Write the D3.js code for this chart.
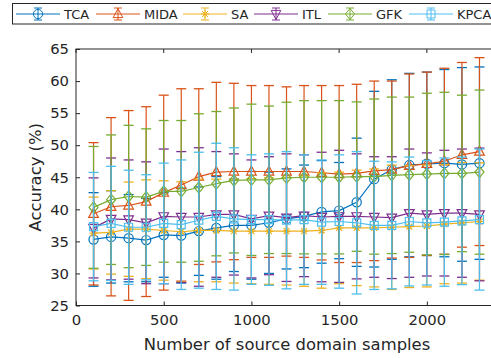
<!DOCTYPE html>
<html>
<head>
<meta charset="utf-8">
<script src="https://cdn.jsdelivr.net/npm/d3@7"></script>
<style>
  body { margin: 0; background: #fff; }
  svg { font-family: "DejaVu Sans", sans-serif; }
</style>
</head>
<body>
<script>
const w = 491;
const h = 358;

const samples = [100, 200, 300, 400, 500, 600, 700, 800, 900, 1000, 1100, 1200,
  1300, 1400, 1500, 1600, 1700, 1800, 1900, 2000, 2100, 2200, 2300];

const tcaMean = [35.3, 35.7, 35.5, 35.2, 36.0, 35.9, 36.6, 37.1, 37.5, 37.5, 37.9, 38.5,
  38.9, 39.6, 39.8, 41.1, 44.7, 46.2, 46.9, 47.1, 47.2, 47.0, 47.2];
const tcaErr = [7.3, 7.2, 6.8, 6.5, 6.6, 7.4, 6.9, 8.0, 7.2, 8.4, 7.9, 7.8,
  8.0, 8.0, 7.5, 10.0, 13.7, 14.0, 14.3, 14.3, 14.6, 15.1, 15.0];

const midaMean = [39.3, 40.4, 40.6, 41.2, 42.6, 43.8, 45.1, 45.8, 45.9, 45.9, 45.9, 45.9,
  45.9, 45.7, 45.5, 45.6, 46.0, 46.2, 46.8, 47.1, 47.5, 48.5, 49.0];
const midaErr = [11.1, 13.9, 14.8, 14.8, 15.2, 15.0, 13.7, 14.0, 13.75, 13.4, 13.4, 13.2,
  13.4, 13.6, 13.8, 13.9, 14.0, 13.8, 14.3, 14.3, 14.5, 14.4, 14.65];

const saMean = [36.3, 36.4, 36.9, 36.9, 36.7, 36.5, 36.7, 36.7, 36.6, 36.6, 36.6, 36.6,
  36.6, 36.7, 37.1, 37.1, 37.1, 37.2, 37.3, 37.4, 37.7, 37.9, 38.1];
const saErr = [5.6, 6.5, 7.35, 7.7, 7.75, 7.8, 8.0, 8.0, 8.1, 8.2, 8.3, 8.4,
  8.6, 9.0, 8.7, 9.0, 9.2, 9.7, 9.5, 9.5, 9.3, 9.4, 9.15];

const itlMean = [37.1, 38.5, 38.4, 37.9, 38.9, 38.8, 38.8, 39.2, 39.2, 38.5, 39.0, 38.7,
  39.0, 38.8, 38.9, 38.9, 38.8, 38.7, 39.4, 39.2, 39.4, 39.4, 39.2];
const itlErr = [7.8, 9.5, 9.3, 9.5, 10.5, 10.2, 10.8, 9.8, 9.45, 9.2, 9.2, 9.95,
  9.5, 10.1, 10.3, 9.75, 9.4, 9.5, 10.0, 9.6, 9.8, 10.0, 10.35];

const gfkMean = [40.3, 41.5, 42.0, 41.9, 42.8, 42.8, 43.4, 44.0, 44.5, 44.6, 44.6, 44.9,
  45.0, 45.0, 45.0, 45.1, 45.1, 45.3, 45.4, 45.5, 45.6, 45.6, 45.8];
const gfkErr = [9.5, 10.1, 11.1, 10.65, 11.05, 11.05, 11.5, 11.25, 11.3, 11.8, 11.5, 11.8,
  11.95, 11.95, 11.95, 11.65, 12.1, 12.2, 12.1, 12.6, 12.65, 12.2, 12.8];

const kpcaMean = [37.3, 37.8, 37.2, 37.2, 37.8, 37.6, 38.3, 38.9, 38.5, 38.4, 38.4, 38.3,
  38.4, 38.0, 38.1, 37.9, 37.5, 37.5, 38.1, 37.9, 38.0, 38.2, 38.4];
const kpcaErr = [8.45, 8.9, 8.9, 8.2, 9.4, 10.1, 10.6, 11.4, 11.1, 10.1, 10.25, 10.7,
  10.1, 9.7, 10.4, 11.1, 10.0, 9.9, 10.05, 9.7, 10.0, 9.95, 11.0];

const methods = ["TCA", "MIDA", "SA", "ITL", "GFK", "KPCA"];
const means = [tcaMean, midaMean, saMean, itlMean, gfkMean, kpcaMean];
const errs = [tcaErr, midaErr, saErr, itlErr, gfkErr, kpcaErr];
const colors = ["#0072BD", "#D95319", "#EDB120", "#7E2F8E", "#77AC30", "#4DBEEE"];
const markers = ["circle", "triUp", "star", "triDown", "diamond", "square"];

const xTicks = [0, 500, 1000, 1500, 2000];
const yTicks = [25, 30, 35, 40, 45, 50, 55, 60, 65];

const padLeft = 76, padRight = 490, padTop = 49, padBottom = 305.5;

const x = d3.scaleLinear().domain([0, 2360]).range([padLeft, padRight]);
const y = d3.scaleLinear().domain([25, 65]).range([padBottom, padTop]);

const svg = d3.select("body").append("svg").attr("width", w).attr("height", h);

function markerPath(type) {
  const p = d3.path();
  if (type === "circle") {
    p.moveTo(4.6, 0);
    p.arc(0, 0, 4.6, 0, Math.PI * 2);
  } else if (type === "triUp") {
    p.moveTo(0, -5.5); p.lineTo(4.8, 3.6); p.lineTo(-4.8, 3.6); p.closePath();
  } else if (type === "triDown") {
    p.moveTo(0, 5.5); p.lineTo(4.8, -3.6); p.lineTo(-4.8, -3.6); p.closePath();
  } else if (type === "diamond") {
    p.moveTo(0, -5.5); p.lineTo(4.5, 0); p.lineTo(0, 5.5); p.lineTo(-4.5, 0); p.closePath();
  } else if (type === "square") {
    p.rect(-4, -4, 8, 8);
  } else if (type === "star") {
    p.moveTo(-4, 0); p.lineTo(4, 0);
    p.moveTo(0, -4); p.lineTo(0, 4);
    p.moveTo(-3, -3); p.lineTo(3, 3);
    p.moveTo(-3, 3); p.lineTo(3, -3);
  }
  return p.toString();
}

// axes box
svg.append("rect")
  .attr("x", padLeft).attr("y", padTop)
  .attr("width", padRight - padLeft + 5).attr("height", padBottom - padTop)
  .attr("fill", "none").attr("stroke", "#262626").attr("stroke-width", 1);

const xAxis = d3.axisBottom(x).tickValues(xTicks).tickFormat(d3.format("d"))
  .tickSize(-4).tickPadding(9);
const yAxis = d3.axisLeft(y).tickValues(yTicks).tickSize(-4).tickPadding(7);

const gx = svg.append("g").attr("transform", `translate(0,${padBottom})`).call(xAxis);
const gy = svg.append("g").attr("transform", `translate(${padLeft},0)`).call(yAxis);
[gx, gy].forEach((g) => {
  g.attr("font-family", null).attr("font-size", null);
  g.select(".domain").remove();
  g.selectAll("line").attr("stroke", "#262626");
  g.selectAll("text").attr("fill", "#262626").style("font-size", "14.8px");
});

// top ticks
svg.append("g").selectAll("line").data(xTicks).enter().append("line")
  .attr("x1", (d) => x(d)).attr("x2", (d) => x(d))
  .attr("y1", padTop).attr("y2", padTop + 4)
  .attr("stroke", "#262626");

// series
const plot = svg.append("g");
methods.forEach((m, i) => {
  const data = samples.map((s, j) => ({ x: s, y: means[i][j], e: errs[i][j] }));
  const g = plot.append("g").attr("stroke", colors[i]).attr("fill", "none")
    .attr("stroke-width", 1);

  const eb = g.selectAll(".eb").data(data).enter().append("g");
  eb.append("line")
    .attr("x1", (d) => x(d.x)).attr("x2", (d) => x(d.x))
    .attr("y1", (d) => y(d.y + d.e)).attr("y2", (d) => y(d.y - d.e))
    .attr("stroke-width", 1.2);
  eb.append("line")
    .attr("x1", (d) => x(d.x) - 5).attr("x2", (d) => x(d.x) + 5)
    .attr("y1", (d) => y(d.y + d.e)).attr("y2", (d) => y(d.y + d.e))
    .attr("stroke-width", 1.3);
  eb.append("line")
    .attr("x1", (d) => x(d.x) - 5).attr("x2", (d) => x(d.x) + 5)
    .attr("y1", (d) => y(d.y - d.e)).attr("y2", (d) => y(d.y - d.e))
    .attr("stroke-width", 1.3);

  g.append("path")
    .datum(data)
    .attr("stroke-width", 1.2)
    .attr("d", d3.line().x((d) => x(d.x)).y((d) => y(d.y)));

  g.selectAll(".mk").data(data).enter().append("path")
    .attr("transform", (d) => `translate(${x(d.x)},${y(d.y)})`)
    .attr("d", markerPath(markers[i]))
    .attr("stroke-width", 1.2);
});

// axis labels
svg.append("text")
  .attr("x", 287).attr("y", 350)
  .attr("text-anchor", "middle")
  .attr("fill", "#262626")
  .style("font-size", "16.4px")
  .text("Number of source domain samples");

svg.append("text")
  .attr("transform", `translate(41,${(padTop + padBottom) / 2}) rotate(-90)`)
  .attr("text-anchor", "middle")
  .attr("fill", "#262626")
  .style("font-size", "16.4px")
  .text("Accuracy (%)");

// legend
const legendX1 = [16, 96, 183, 254, 328, 409];
const legend = svg.append("g");
legend.append("rect")
  .attr("x", 12.5).attr("y", 3.5).attr("width", 490).attr("height", 20.5)
  .attr("fill", "#fff").attr("stroke", "#262626").attr("stroke-width", 1);

methods.forEach((m, i) => {
  const x0 = legendX1[i];
  const cx = x0 + 22;
  const cy = 14;
  const g = legend.append("g").attr("stroke", colors[i]).attr("fill", "none");
  g.append("line").attr("x1", x0).attr("x2", x0 + 44).attr("y1", cy).attr("y2", cy);
  g.append("line").attr("x1", cx).attr("x2", cx).attr("y1", cy - 6).attr("y2", cy + 6);
  g.append("line").attr("x1", cx - 4).attr("x2", cx + 4).attr("y1", cy - 6).attr("y2", cy - 6);
  g.append("line").attr("x1", cx - 4).attr("x2", cx + 4).attr("y1", cy + 6).attr("y2", cy + 6);
  g.append("path").attr("transform", `translate(${cx},${cy})`).attr("d", markerPath(markers[i]));
  legend.append("text")
    .attr("x", x0 + 48).attr("y", cy + 4.5)
    .attr("fill", "#262626")
    .style("font-size", "13px")
    .text(m);
});
</script>
</body>
</html>
